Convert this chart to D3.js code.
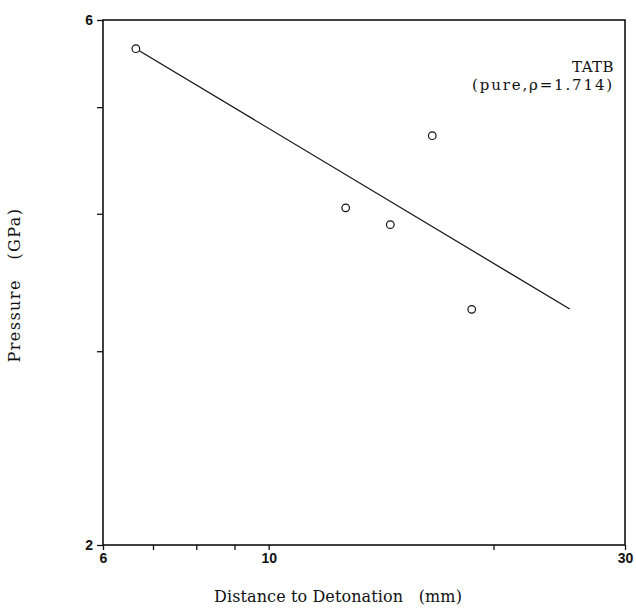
<!DOCTYPE html>
<html>
<head>
<meta charset="utf-8">
<script src="https://cdn.jsdelivr.net/npm/d3@7"></script>
<style>
  html, body { margin: 0; padding: 0; background: #fff; }
  svg { display: block; }
</style>
</head>
<body>
<svg id="chart" width="636" height="612"></svg>
<script>
// Run distance vs. initial pressure, TATB (pure, rho = 1.714)
const distance = [6.64, 12.68, 14.55, 16.56, 18.70];   // mm
const pressure = [5.65, 4.05, 3.91, 4.71, 3.275];      // GPa

// Fitted Pop-plot line (straight on log-log axes), end points
const fitDistance = [6.64, 25.3];
const fitPressure = [5.65, 3.277];

const xDomain = [6, 30];
const yDomain = [2, 6];
const xTickValues = [6, 7, 8, 9, 10, 20, 30];
const xTickLabels = ["6", "", "", "", "10", "", "30"];
const yTickValues = [2, 3, 4, 5, 6];
const yTickLabels = ["2", "", "", "", "6"];

const margin = { left: 103, right: 11, top: 20, bottom: 67 };
const W = 636, H = 612;

const svg = d3.select("#chart");
const x = d3.scaleLog().domain(xDomain).range([margin.left, W - margin.right]);
const y = d3.scaleLog().domain(yDomain).range([H - margin.bottom, margin.top]);

const ink = "#111";
const tickFont = "'Liberation Sans', Arial, sans-serif";
const serif = "'DejaVu Serif', 'Liberation Serif', serif";

// Spread a text's letters so it spans a given width
function spreadTo(sel, width) {
  sel.style("letter-spacing", "0px");
  const w = sel.node().getComputedTextLength();
  const n = sel.text().length;
  sel.style("letter-spacing", ((width - w) / n) + "px");
}

// Frame
svg.append("rect")
  .attr("x", x(xDomain[0])).attr("y", y(yDomain[1]))
  .attr("width", x(xDomain[1]) - x(xDomain[0]))
  .attr("height", y(yDomain[0]) - y(yDomain[1]))
  .attr("fill", "none").attr("stroke", ink).attr("stroke-width", 1.6);

// Bottom axis
const xAxis = d3.axisBottom(x)
  .tickValues(xTickValues)
  .tickSize(5)
  .tickPadding(3)
  .tickFormat((d, i) => xTickLabels[i]);
const gx = svg.append("g")
  .attr("transform", `translate(0,${y(yDomain[0])})`)
  .call(xAxis);
gx.select(".domain").remove();
gx.selectAll("line").attr("stroke", ink).attr("stroke-width", 1.3);
gx.selectAll("text").attr("fill", ink)
  .style("font-family", tickFont).style("font-size", "14px").style("font-weight", "bold");

// Left axis
const yAxis = d3.axisLeft(y)
  .tickValues(yTickValues)
  .tickSize(6)
  .tickPadding(4)
  .tickFormat((d, i) => yTickLabels[i]);
const gy = svg.append("g")
  .attr("transform", `translate(${x(xDomain[0])},0)`)
  .call(yAxis);
gy.select(".domain").remove();
gy.selectAll("line").attr("stroke", ink).attr("stroke-width", 1.3);
gy.selectAll("text").attr("fill", ink)
  .style("font-family", tickFont).style("font-size", "14px").style("font-weight", "bold");

// Fit line
const line = d3.line().x(d => x(d[0])).y(d => y(d[1]));
svg.append("path")
  .datum(fitDistance.map((d, i) => [d, fitPressure[i]]))
  .attr("d", line)
  .attr("fill", "none").attr("stroke", ink).attr("stroke-width", 1.2);

// Data points
svg.append("g").selectAll("circle")
  .data(distance.map((d, i) => [d, pressure[i]]))
  .join("circle")
  .attr("cx", d => x(d[0])).attr("cy", d => y(d[1]))
  .attr("r", 3.8)
  .attr("fill", "#fff").attr("stroke", ink).attr("stroke-width", 1.2);

// Material label
const lab1 = svg.append("text")
  .attr("x", 614).attr("y", 72).attr("text-anchor", "end")
  .style("font-family", serif).style("font-size", "15px").attr("fill", ink)
  .text("TATB");
const lab2 = svg.append("text")
  .attr("x", 614).attr("y", 90).attr("text-anchor", "end")
  .style("font-family", serif).style("font-size", "15px").attr("fill", ink)
  .text("(pure,ρ=1.714)");
spreadTo(lab1, 42);
spreadTo(lab2, 142);

// Axis titles
const xt = svg.append("text")
  .attr("x", 338).attr("y", 602)
  .attr("text-anchor", "middle")
  .style("font-family", serif).style("font-size", "16px").attr("fill", ink)
  .attr("xml:space", "preserve")
  .text("Distance to Detonation   (mm)");
spreadTo(xt, 248);

const yt = svg.append("text")
  .attr("transform", "translate(20,285) rotate(-90)")
  .attr("text-anchor", "middle")
  .style("font-family", serif).style("font-size", "16px").attr("fill", ink)
  .attr("xml:space", "preserve")
  .text("Pressure   (GPa)");
spreadTo(yt, 155);
</script>
</body>
</html>
